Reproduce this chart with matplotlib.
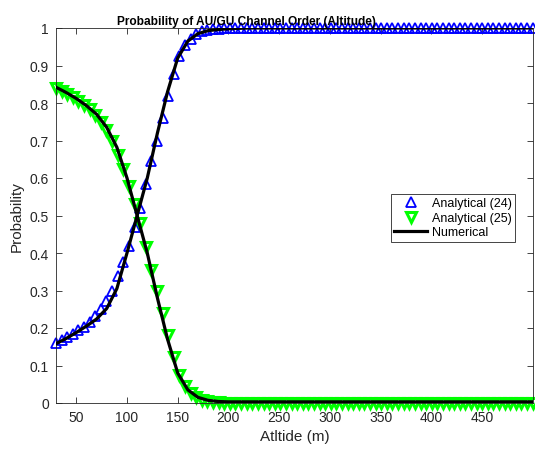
import numpy as np
import matplotlib
matplotlib.use('Agg')
import matplotlib.pyplot as plt

# marker altitudes (analytical), 86 points from 30 to 500 m
altitude = np.linspace(30, 500, 86)

# Analytical (24): probability
p_an24 = [0.160, 0.168, 0.176, 0.185, 0.194, 0.204, 0.217, 0.232, 0.250, 0.272,
          0.300, 0.338, 0.376, 0.420, 0.470, 0.520, 0.585, 0.645, 0.700, 0.760,
          0.818, 0.878, 0.925, 0.955, 0.972, 0.984, 0.991, 0.995, 0.997, 0.998,
          0.999] + [1.0] * 55

# Analytical (25)
p_an25 = [0.840, 0.832, 0.824, 0.815, 0.806, 0.796, 0.783, 0.768, 0.750, 0.728,
          0.700, 0.662, 0.624, 0.580, 0.530, 0.480, 0.415, 0.355, 0.300, 0.240,
          0.182, 0.122, 0.075, 0.045, 0.028, 0.016, 0.009, 0.005, 0.003, 0.002,
          0.001] + [0.0] * 55

# numerical curves, sampled every 10 m
alt_num = np.arange(30, 501, 10)
p_num_a = [0.158, 0.172, 0.188, 0.205, 0.224, 0.252, 0.305, 0.400, 0.500, 0.600,
           0.720, 0.830, 0.920, 0.965, 0.985, 0.993, 0.996, 0.998, 0.999] + [1.0] * 29
p_num_b = [0.842, 0.828, 0.812, 0.793, 0.770, 0.735, 0.682, 0.600, 0.500, 0.400,
           0.280, 0.170, 0.080, 0.035, 0.015, 0.007, 0.004, 0.003, 0.003] + [0.003] * 29

plt.rcParams['font.family'] = ['Liberation Sans', 'DejaVu Sans']
axc = '#262626'

fig = plt.figure(figsize=(5.35, 4.56), dpi=100)
ax = fig.add_axes([56 / 535, 52 / 456, 476.7 / 535, 375 / 456])

ax.plot(altitude, p_an24, linestyle='none', marker='^', markersize=7.5,
        markerfacecolor='none', markeredgecolor='#0000ff', markeredgewidth=1.3,
        label='Analytical (24)', zorder=2, clip_on=False)
ax.plot(altitude, p_an25, linestyle='none', marker='v', markersize=7.5,
        markerfacecolor='none', markeredgecolor='#00ff00', markeredgewidth=2.2,
        label='Analytical (25)', zorder=2, clip_on=False)
ax.plot(alt_num, p_num_a, color='black', linewidth=2.3, label='Numerical', zorder=3)
ax.plot(alt_num, p_num_b, color='black', linewidth=2.3, zorder=3)

ax.set_xlim(30, 500)
ax.set_ylim(0, 1)
ax.set_xticks(np.arange(50, 451, 50))
ax.set_yticks(np.arange(0, 1.01, 0.1))
ax.set_yticklabels(['0', '0.1', '0.2', '0.3', '0.4', '0.5', '0.6', '0.7', '0.8', '0.9', '1'])
ax.tick_params(direction='in', top=True, right=True, length=4, width=0.6,
               colors=axc, labelsize=10, pad=5)
for s in ax.spines.values():
    s.set_color(axc)
    s.set_linewidth(0.6)

ax.set_xlabel('Atltide (m)', fontsize=11, color=axc, labelpad=4)
ax.set_ylabel('Probability', fontsize=11, color=axc, labelpad=4)
ax.set_title('Probability of AU/GU Channel Order (Altitude)', fontsize=8.6,
             fontweight='bold', x=0.399, pad=3)

leg = ax.legend(loc='upper right', bbox_to_anchor=(0.977, 0.575), fontsize=9,
                fancybox=False, edgecolor=axc, framealpha=1, borderpad=0.3,
                handlelength=2.6, labelspacing=0.2, handletextpad=0.4)
leg.get_frame().set_linewidth(0.6)

fig.savefig('out.png', dpi=100)
